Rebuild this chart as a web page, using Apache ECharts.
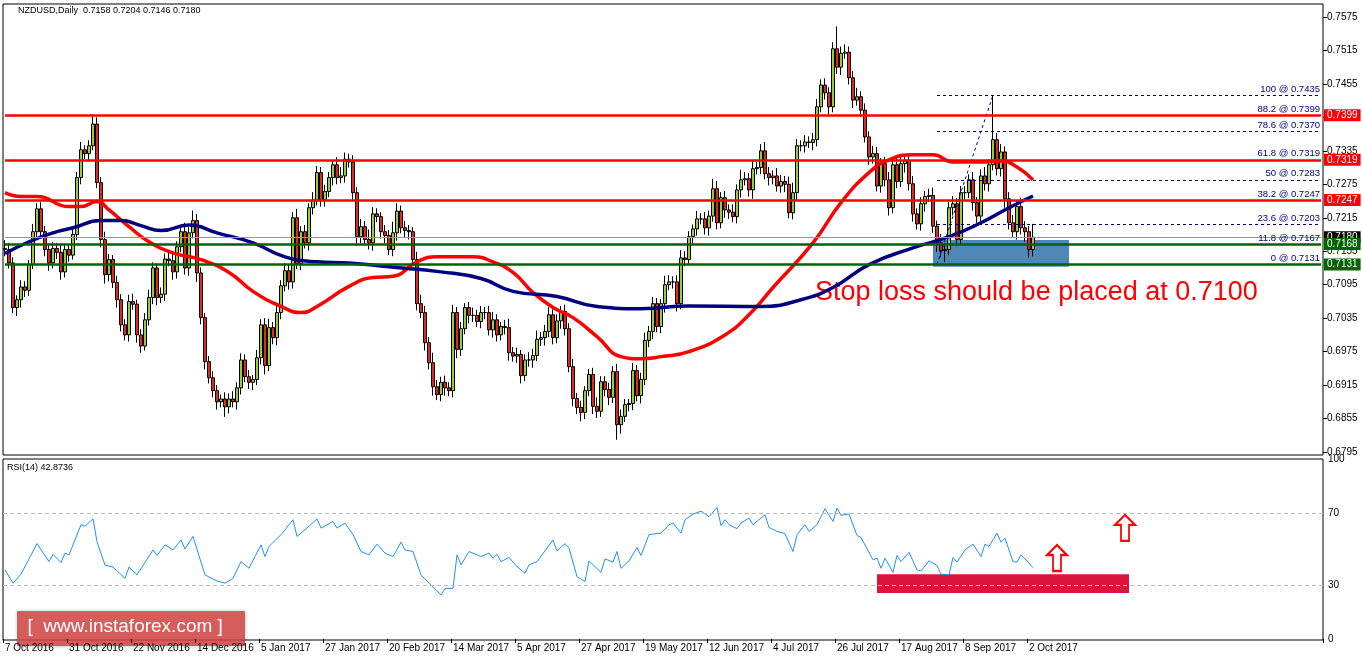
<!DOCTYPE html>
<html>
<head>
<meta charset="utf-8" />
<title>NZDUSD Daily</title>
<script src="https://cdn.jsdelivr.net/npm/echarts@6/dist/echarts.min.js"></script>
<style>
html,body{margin:0;padding:0;background:#fff}
#main{width:1362px;height:661px}
</style>
</head>
<body>
<div id="main"></div>
<script>
// price data in pips (0.0001)
var firstOpen = 7160;
var closes = [
7158,7134,7054,7068,7091,7085,7131,7190,7231,7190,
7158,7134,7160,7153,7118,7158,7148,7185,7287,7337,
7330,7344,7383,7278,7176,7113,7140,7099,7068,7023,
7005,7065,7060,7005,6985,7032,7072,7125,7072,7078,
7141,7138,7118,7163,7190,7125,7188,7210,7116,7036,
6957,6928,6905,6885,6890,6876,6890,6885,6910,6960,
6930,6920,6925,6964,7023,6950,7018,7000,7045,7093,
7120,7100,7215,7133,7190,7170,7233,7247,7296,7247,
7262,7287,7310,7287,7290,7320,7315,
7260,7181,7199,7176,7170,7222,7217,7190,7183,7158,
7188,7227,7197,7192,7190,7140,7061,7045,6991,6955,
6912,6898,6920,6910,6905,7045,6979,7016,7054,7040,
7040,7029,7045,7045,7014,7032,7005,7020,7018,6973,
6967,6970,6932,6960,6960,6968,6997,7000,7011,7041,
7000,7030,7047,7016,6948,6891,6875,6866,6905,6934,
6877,6868,6921,6907,6893,6939,6844,6859,6880,6882,
6941,6896,6925,6995,7011,7061,7020,7061,7095,7100,
7100,7061,7143,7140,
7181,7195,7213,7213,7197,7218,7267,7206,7251,7229,
7225,7217,7265,7283,7285,7265,7303,7305,7335,7294,
7287,7290,7272,7280,7275,7224,7260,7344,7344,7351,
7350,7355,7414,7453,7439,7414,7518,7485,7510,7512,
7466,7426,7432,7408,7360,7324,7330,7272,7312,7283,
7233,7310,7280,7312,7318,7276,7222,7204,7240,7253,
7255,7200,7170,7156,7158,7233,7240,7176,7260,7260,
7283,7242,7218,7290,7276,7310,7355,7303,7333,7249,
7206,7190,7235,7197,7190,7158,7180
];
var upWick = [
15,12,10,8,12,10,8,14,10,12, 10,8,12,10,14,8,10,12,10,14,
8,10,17,12,10,14,10,8,12,10, 10,12,14,8,10,12,14,10,8,12,
10,12,14,10,12,16,10,18,12,10, 8,10,12,10,8,12,10,14,10,12,
10,12,8,14,10,12,16,10,12,10, 14,12,10,16,10,12,8,14,12,10,
12,10,8,14,16,12,10,12,10,14, 10,18,12,10,8,12,10,20,14,10,
12,10,8,14,16,12,10,18,12,10, 12,10,14,10,12,8,10,14,10,12,
10,12,14,10,8,12,16,10,12,8, 10,14,12,16,10,12,14,10,12,10,
12,10,14,10,12,8,10,12,16,10, 10,12,10,14,12,10,8,14,10,12,
14,10,12,10,8,16,12,10,12,14, 12,10,8,14,10,12,10,18,14,10,
12,10,14,10,18,12,10,14,10,12, 16,12,10,14,12,10,14,18,12,10,
12,10,12,14,10,12,10,12,40,12, 14,10,12,16,10,12,10,14,12,10,
12,14,10,12,16,10,12,14,10,12, 10,12,14,10,16,12,10,14,10,12,
12,10,14,10,12,16,10,80,12,14, 10,12,14,10,16,12,10,24
];
var downWick = [
12,10,10,15,14,12,10,8,12,10, 12,14,10,12,14,10,12,8,10,12,
10,12,8,10,14,16,12,10,14,12, 10,12,10,14,12,8,10,12,14,10,
12,10,14,12,10,12,14,10,16,12, 14,10,12,14,10,18,12,10,14,12,
10,12,14,10,12,16,10,12,14,12, 10,14,12,10,12,10,14,12,10,12,
12,10,14,12,10,12,10,14,16,12, 10,12,14,10,12,14,10,12,14,10,
12,14,10,12,10,14,12,16,10,12, 14,10,12,16,12,10,14,12,10,12,
12,10,14,12,10,12,14,10,12,14, 10,12,14,10,12,14,10,12,10,14,
12,10,14,12,16,12,10,14,12,10, 12,14,10,27,16,10,12,12,10,14,
10,12,14,10,12,16,10,12,14,10, 12,10,14,12,10,12,14,10,12,10,
14,12,10,12,14,10,12,16,10,12, 10,14,12,10,12,14,10,12,14,10,
12,10,14,12,10,12,14,10,12,14, 10,12,14,10,12,10,14,12,10,12,
12,14,10,12,10,16,12,14,10,12, 14,10,12,16,12,20,10,14,12,10,
12,10,14,12,10,12,14,10,12,14, 16,12,10,14,12,18,14,12
];

// moving averages read at sample bars
var maRedBars = [0,4,8,16,19,23,26,31,36,42,49,56,62,69,74,78,86,92,97,103,108,117,122,127,132,137,142,148,154,159,164,171,180,186,192,202,209,216,221,227,232,237,244,249,253,257];
var maRedVals = [7260,7253,7253,7235,7235,7244,7229,7199,7172,7152,7140,7117,7083,7056,7045,7056,7092,7108,7110,7136,7145,7145,7136,7117,7081,7054,7036,7002,6966,6962,6966,6975,7005,7041,7090,7170,7242,7296,7319,7328,7328,7315,7315,7317,7306,7283];
var maBlueBars = [0,6,12,17,24,29,34,39,46,53,62,70,78,86,96,109,119,127,138,148,159,171,189,199,207,216,227,236,244,251,257];
var maBlueVals = [7151,7172,7188,7197,7210,7210,7201,7192,7202,7188,7170,7145,7136,7134,7127,7118,7106,7083,7074,7056,7052,7057,7056,7068,7090,7131,7161,7181,7206,7233,7254];

var rsiBars = [0,2,4,8,11,12,14,15,16,19,20,22,23,25,27,30,31,33,37,38,40,42,44,45,47,50,53,55,57,59,61,64,65,66,69,70,72,73,75,78,79,82,83,85,87,89,91,93,95,97,99,100,102,104,106,109,110,112,113,114,116,119,121,122,123,124,126,128,130,131,133,
137,138,140,141,143,145,146,149,150,152,153,154,156,158,159,161,164,166,167,169,170,172,174,176,178,179,180,181,183,184,186,187,189,190,191,193,195,197,198,200,201,203,205,207,208,209,211,213,214,217,218,219,220,222,223,224,226,228,229,231,233,234,236,237,238,240,242,244,245,246,248,249,250,252,253,254,255,257];
var rsiVals = [38.4,31,36,53,43,47,42.5,47.7,46.7,63.5,62.6,66.8,54,41,40,33.7,40,35.6,49.5,46.4,52.3,49.5,55,50,57,35.6,32.2,31,33.7,43,39.3,52.3,45.8,51.4,58,60.7,66.3,57,60.7,66.7,61.6,65.3,61.6,64.4,58,48.6,46.7,52.7,47.7,45.8,53.8,49.5,48.6,35.6,31,24.4,28.1,28.1,46.7,41.2,48.6,45.8,47.7,44.9,47.1,43,45.3,40.2,36.5,41.2,43,
55,49,53,50.5,34.7,31.9,43.4,37,44.5,42.7,48.6,39.3,43.4,50.8,46.4,58,58.8,63.5,64.4,58.8,66.3,69.4,71,68,73,63,66.3,63.5,61.3,64.4,67.2,63.5,67.2,69,62,59.8,58.5,48.6,57.9,63.5,59.8,63.5,72.4,65.3,72.8,68.7,69.4,57.5,56.4,44,44.9,39.3,44.9,37,46.4,43,48.2,38.4,37.8,43.4,40.8,36,35.6,45.3,42.7,49.5,52.7,45.8,52.7,51.4,58.8,53.8,56,43,42.7,46.7,44.5,39.7,42.9];

var dateLabels = ['7 Oct 2016','31 Oct 2016','22 Nov 2016','14 Dec 2016','5 Jan 2017','27 Jan 2017','20 Feb 2017','14 Mar 2017','5 Apr 2017','27 Apr 2017','19 May 2017','12 Jun 2017','4 Jul 2017','26 Jul 2017','17 Aug 2017','8 Sep 2017','2 Oct 2017'];
var levelsRed = [0.7399, 0.7319, 0.7247];
var levelsGreen = [0.7168, 0.7131];
var lastPrice = 0.7180;
var fibPct = ['100','88.2','78.6','61.8','50','38.2','23.6','11.8','0'];
var fibVals = [0.7435,0.7399,0.7370,0.7319,0.7283,0.7247,0.7203,0.7167,0.7131];

var TOTAL = 330;
var cats = [];
for (var i = 0; i < TOTAL; i++) cats.push(i);

var prev = firstOpen;
var candles = closes.map(function (c, i) {
  var o = prev; prev = c;
  return [o / 1e4, c / 1e4, (Math.min(o, c) - downWick[i]) / 1e4, (Math.max(o, c) + upWick[i]) / 1e4];
});
function pairs(b, v, s) { return b.map(function (x, i) { return [x, s ? v[i] / 1e4 : v[i]]; }); }

var FONT = 'Liberation Sans';
function hline(v, col, w, bg) {
  return [
    { coord: [0, v], lineStyle: { color: col, width: w, type: 'solid' },
      label: { show: true, position: 'end', distance: 3, backgroundColor: bg, color: '#fff', fontSize: 10, fontFamily: FONT, padding: [1, 3], formatter: v.toFixed(4) } },
    { coord: [TOTAL - 1, v] }
  ];
}
var lines = [];
lines.push(hline(lastPrice, '#8a9aaa', 1, '#000'));
levelsRed.forEach(function (v) { lines.push(hline(v, '#ff0000', 2.5, '#ff0000')); });
levelsGreen.forEach(function (v) { lines.push(hline(v, '#006400', 2.5, '#006400')); });

var fibLines = fibVals.map(function (v, i) {
  return [{ coord: [233, v], lineStyle: { color: '#000080', width: 1, type: [3, 3] },
            label: { show: true, position: 'insideEndTop', distance: 1, color: '#000080', fontSize: 9.5, fontFamily: FONT, formatter: fibPct[i] + ' @ ' + v.toFixed(4) } },
          { coord: [329, v] }];
});
fibLines.push([{ coord: [233, 0.7131], lineStyle: { color: '#000080', width: 1, type: [3, 3] }, label: { show: false } }, { coord: [247, 0.7435] }]);

var arrow = 'path://M10,0 L20,10 L14,10 L14,26 L6,26 L6,10 L0,10 Z';

var chart = echarts.init(document.getElementById('main'));
chart.setOption({
  animation: false,
  textStyle: { fontFamily: FONT },
  grid: [
    { left: 3, right: 39, top: 17, height: 435 },
    { left: 3, right: 39, top: 459, height: 180 }
  ],
  xAxis: [
    { type: 'category', gridIndex: 0, data: cats, boundaryGap: true, axisLine: { show: false }, axisTick: { show: false }, axisLabel: { show: false } },
    { type: 'category', gridIndex: 1, data: cats, boundaryGap: true,
      axisLine: { show: false },
      axisTick: { show: true, interval: function (i) { return i % 16 === 0 && i / 16 < dateLabels.length; }, length: 4, lineStyle: { color: '#000' } },
      axisLabel: { interval: function (i) { return i % 16 === 0 && i / 16 < dateLabels.length; }, formatter: function (v, i) { return dateLabels[i / 16] || ''; }, align: 'left', margin: 4, fontSize: 10, color: '#000', fontFamily: FONT } }
  ],
  yAxis: [
    { type: 'value', gridIndex: 0, position: 'right', min: 0.6795, max: 0.7575, interval: 0.006, splitLine: { show: false },
      axisLine: { show: false }, axisTick: { show: true, inside: false, length: 4, lineStyle: { color: '#000' } },
      axisLabel: { fontSize: 10, color: '#000', margin: 4, fontFamily: FONT, formatter: function (v) { return v.toFixed(4); } } },
    { type: 'value', gridIndex: 1, position: 'right', min: 0, max: 100, interval: 10, splitLine: { show: false },
      axisLine: { show: false }, axisTick: { show: false },
      axisLabel: { fontSize: 10, color: '#000', margin: 5, fontFamily: FONT, formatter: function (v) { return (v === 0 || v === 30 || v === 70 || v === 100) ? v : ''; } } }
  ],
  graphic: [
    { type: 'rect', shape: { x: 3, y: 4, width: 1320, height: 451 }, style: { fill: 'none', stroke: '#000', lineWidth: 1 }, z: 0, silent: true },
    { type: 'rect', shape: { x: 3, y: 459, width: 1320, height: 181 }, style: { fill: 'none', stroke: '#000', lineWidth: 1 }, z: 0, silent: true },
    { type: 'text', left: 18, top: 6, style: { text: 'NZDUSD,Daily  0.7158 0.7204 0.7146 0.7180', fontSize: 9, fill: '#000', fontFamily: FONT } },
    { type: 'text', left: 7, top: 463, style: { text: 'RSI(14) 42.8736', fontSize: 9, fill: '#000', fontFamily: FONT } },
    { type: 'text', left: 815, top: 279, style: { text: 'Stop loss should be placed at 0.7100', fontSize: 27, fill: '#ff0000', fontFamily: FONT } },
    { type: 'group', left: 17, top: 611, children: [
      { type: 'rect', shape: { x: 0, y: 0, width: 227, height: 34 }, style: { fill: 'rgba(220,70,70,0.82)', stroke: 'rgba(180,60,60,0.6)', shadowBlur: 4, shadowColor: 'rgba(0,0,0,0.3)' } },
      { type: 'text', left: 10, top: 6, style: { text: '[  www.instaforex.com ]', fontSize: 19, fill: '#fff', fontFamily: FONT } }
    ] }
  ],
  series: [
    { type: 'candlestick', xAxisIndex: 0, yAxisIndex: 0, data: candles, barWidth: 3,
      itemStyle: { color: '#9acd32', color0: '#e8261c', borderColor: '#000', borderColor0: '#000', borderWidth: 1 },
      markLine: { symbol: 'none', silent: true, animation: false, data: fibLines },
      markArea: { silent: true, itemStyle: { color: '#4682b4', opacity: 0.95 }, data: [[{ coord: [232, 0.7175] }, { coord: [266, 0.7127] }]] },
      z: 3 },
    { type: 'line', xAxisIndex: 0, yAxisIndex: 0, data: pairs(maRedBars, maRedVals, true), smooth: true, symbol: 'none', lineStyle: { color: '#ff0000', width: 3.5 }, z: 4,
      markLine: { symbol: 'none', silent: true, animation: false, data: lines } },
    { type: 'line', xAxisIndex: 0, yAxisIndex: 0, data: pairs(maBlueBars, maBlueVals, true), smooth: true, symbol: 'none', lineStyle: { color: '#000080', width: 3.5 }, z: 4 },
    { type: 'line', xAxisIndex: 1, yAxisIndex: 1, data: pairs(rsiBars, rsiVals, false), symbol: 'none', lineStyle: { color: '#1e90ff', width: 1 }, z: 4,
      markLine: { symbol: 'none', silent: true, label: { show: false }, lineStyle: { color: '#bbb', type: [4, 3], width: 1 }, data: [{ yAxis: 30 }, { yAxis: 70 }] },
      markArea: { silent: true, itemStyle: { color: '#dc143c' }, data: [[{ coord: [218, 36] }, { coord: [281, 25.5] }]] },
      markPoint: { silent: true, symbol: arrow, symbolSize: [20, 26], label: { show: false },
        itemStyle: { color: '#fff', borderColor: '#ff0000', borderWidth: 2 },
        data: [{ coord: [263, 45] }, { coord: [280, 61.7] }] } }
  ]
});
</script>
</body>
</html>
